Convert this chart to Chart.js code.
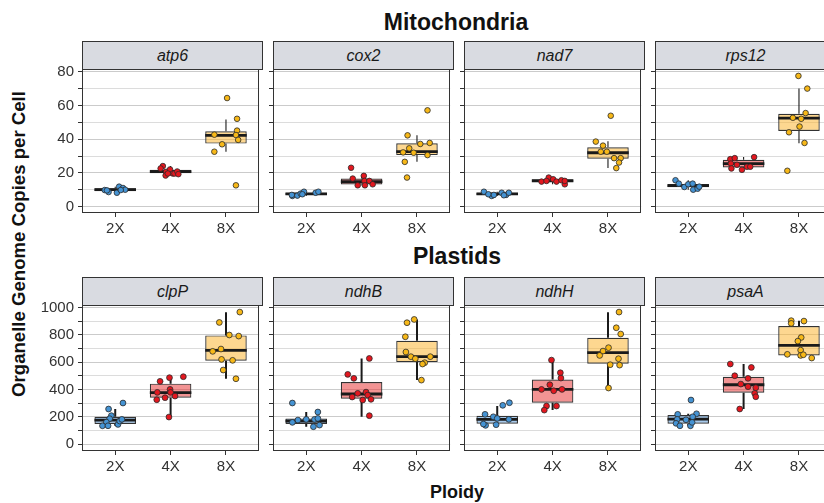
<!DOCTYPE html>
<html><head><meta charset="utf-8">
<script src="https://cdn.jsdelivr.net/npm/chart.js@4.4.0/dist/chart.umd.min.js"></script>
<style>
html,body{margin:0;padding:0;background:#fff;}
body{width:824px;height:503px;overflow:hidden;position:relative;font-family:'Liberation Sans',Arial,Helvetica,sans-serif;}
.title{position:absolute;transform:translate(-50%,-50%);font-weight:bold;color:#111;white-space:nowrap;}
.strip{position:absolute;box-sizing:border-box;border:1px solid #333;background:#d9dbe1;font-style:italic;text-align:center;color:#1a1a1a;font-size:16px;}
canvas{position:absolute;}
</style></head><body>
<div class="title" style="left:456px;top:22px;font-size:23px;">Mitochondria</div>
<div class="title" style="left:457px;top:256px;font-size:23px;">Plastids</div>
<div class="title" style="left:457px;top:492px;font-size:18px;">Ploidy</div>
<div class="title" style="left:19px;top:244px;font-size:18.6px;transform:translate(-50%,-50%) rotate(-90deg);">Organelle Genome Copies per Cell</div>
<script>
// ---------- data ----------
const ploidy = ['2X', '4X', '8X'];
const mitoGenes = ['atp6', 'cox2', 'nad7', 'rps12'];
const plastidGenes = ['clpP', 'ndhB', 'ndhH', 'psaA'];
const mitoTickValues = [0, 10, 20, 30, 40, 50, 60, 70, 80];
const mitoTickLabels = ['0', '', '20', '', '40', '', '60', '', '80'];
const plastidTickValues = [0, 100, 200, 300, 400, 500, 600, 700, 800, 900, 1000];
const plastidTickLabels = ['0', '', '200', '', '400', '', '600', '', '800', '', '1000'];

// box stats per ploidy: [lower whisker, Q1, median, Q3, upper whisker]
const atp6Stats = [[8.3, 9.2, 10.2, 10.9, 11.9], [18.5, 19.8, 20.8, 21.9, 24.1], [32.6, 37.4, 42.3, 44.7, 51.7]];
const cox2Stats = [[6.4, 7.0, 7.6, 8.3, 8.9], [12.7, 13.2, 14.9, 16.7, 18.3], [26.6, 30.6, 32.6, 37.6, 42.3]];
const nad7Stats = [[6.4, 7.0, 7.6, 8.3, 8.9], [13.3, 14.7, 15.4, 16.2, 17.3], [22.9, 28.4, 32.0, 35.2, 38.8]];
const rps12Stats = [[10.1, 11.5, 12.5, 13.5, 15.7], [21.9, 23.3, 25.6, 27.8, 29.4], [37.6, 44.9, 52.5, 55.1, 70.0]];
const clpPStats = [[134, 147, 176, 200, 257], [198, 340, 377, 443, 494], [479, 611, 687, 797, 966]];
const ndhBStats = [[127, 147, 169, 188, 235], [200, 333, 367, 455, 628], [469, 601, 641, 758, 914]];
const ndhHStats = [[137, 149, 181, 208, 279], [249, 303, 401, 474, 621], [408, 589, 670, 780, 966]];
const psaAStats = [[134, 149, 183, 213, 222], [257, 377, 435, 494, 587], [631, 650, 724, 866, 905]];

// individual (jittered) observations: [x position, value], one list per ploidy
const atp6Points = [
  [[0.81, 9.9], [0.88, 8.7], [1.03, 8.3], [1.07, 11.9], [1.14, 11.1], [1.18, 10.1], [1.10, 9.9], [0.85, 9.7]],
  [[1.86, 24.1], [1.82, 22.7], [1.92, 20.7], [1.91, 18.5], [1.99, 22.1], [2.04, 19.7], [2.07, 19.7], [2.12, 20.9], [2.14, 19.3], [1.95, 19.7]],
  [[3.02, 64.4], [3.20, 52.1], [2.79, 42.7], [3.20, 45.1], [3.18, 42.5], [3.22, 39.6], [2.93, 37.0], [2.79, 32.6], [3.18, 12.7]]
];
const cox2Points = [
  [[0.75, 6.4], [0.84, 6.6], [0.90, 7.8], [0.96, 8.9], [1.17, 8.3], [1.22, 8.9], [0.74, 7.0], [0.93, 7.4]],
  [[1.81, 23.1], [1.84, 16.7], [2.04, 18.3], [2.05, 15.3], [1.93, 12.7], [2.06, 12.7], [2.14, 15.3], [2.20, 13.3]],
  [[3.19, 57.1], [2.83, 42.3], [3.06, 37.2], [3.23, 37.8], [2.86, 34.6], [2.75, 32.2], [2.94, 32.0], [3.19, 30.6], [2.78, 26.6], [2.82, 17.3]]
];
const nad7Points = [
  [[0.76, 8.9], [0.90, 6.4], [0.84, 7.4], [1.08, 8.3], [1.16, 7.0], [1.21, 8.3], [0.94, 7.0], [1.12, 6.8]],
  [[1.93, 17.3], [1.80, 14.9], [1.89, 15.3], [2.01, 16.3], [2.07, 14.9], [2.16, 15.7], [2.22, 13.3], [2.22, 15.3]],
  [[3.05, 53.9], [2.78, 38.6], [2.91, 36.2], [2.87, 32.6], [2.98, 32.6], [3.11, 28.8], [3.23, 28.8], [3.20, 26.2], [3.15, 22.9]]
];
const rps12Points = [
  [[0.77, 15.7], [0.83, 13.7], [0.93, 11.7], [1.00, 13.3], [1.08, 13.7], [1.09, 10.1], [1.17, 10.7], [1.20, 11.9]],
  [[1.76, 28.2], [1.84, 28.8], [1.77, 25.6], [1.78, 22.7], [1.88, 24.9], [1.97, 21.9], [2.06, 23.7], [2.12, 23.7], [2.19, 29.4]],
  [[2.99, 77.5], [3.15, 70.0], [3.12, 55.5], [2.89, 52.7], [3.04, 52.1], [3.01, 47.5], [2.82, 44.1], [3.10, 37.8], [2.79, 21.3]]
];
const clpPPoints = [
  [[0.88, 257], [1.14, 301], [0.93, 208], [0.90, 186], [0.84, 161], [0.77, 134], [0.87, 134], [1.05, 144], [1.08, 169], [1.12, 181]],
  [[1.81, 460], [1.98, 487], [2.23, 494], [1.76, 379], [1.99, 401], [2.00, 379], [2.08, 352], [1.90, 340], [1.75, 325], [1.97, 198]],
  [[3.25, 968], [2.88, 892], [3.06, 800], [3.23, 792], [2.76, 680], [2.91, 697], [2.92, 621], [3.12, 614], [2.95, 543], [3.18, 479]]
];
const ndhBPoints = [
  [[0.75, 301], [0.75, 159], [0.85, 176], [1.00, 181], [1.15, 181], [1.21, 235], [1.21, 188], [1.24, 139], [1.13, 127]],
  [[2.14, 628], [1.75, 511], [1.86, 482], [1.93, 372], [2.08, 381], [2.11, 359], [1.83, 345], [2.02, 323], [2.17, 328], [2.14, 208]],
  [[2.95, 914], [2.82, 890], [2.79, 787], [2.80, 675], [2.89, 641], [2.97, 626], [3.24, 641], [3.14, 597], [3.10, 587], [3.08, 469]]
];
const ndhHPoints = [
  [[1.22, 303], [1.10, 284], [0.78, 218], [0.93, 200], [1.00, 188], [1.21, 181], [0.79, 137], [0.98, 142], [0.75, 147]],
  [[1.98, 616], [2.14, 523], [2.15, 484], [1.95, 435], [1.80, 401], [2.02, 391], [2.17, 401], [1.89, 279], [2.07, 279], [1.85, 249]],
  [[3.20, 968], [3.15, 853], [3.23, 807], [3.01, 707], [2.91, 682], [2.85, 650], [3.19, 626], [3.04, 582], [3.21, 579], [3.01, 411]]
];
const psaAPoints = [
  [[1.05, 323], [0.81, 218], [1.15, 222], [1.08, 200], [0.80, 181], [0.78, 152], [0.85, 134], [1.04, 134], [1.07, 159], [0.96, 178]],
  [[1.76, 587], [2.14, 562], [1.84, 501], [2.08, 482], [1.95, 440], [2.08, 421], [2.22, 413], [2.20, 372], [2.22, 347], [1.93, 257]],
  [[2.86, 905], [3.09, 902], [2.86, 885], [3.04, 782], [2.98, 755], [3.03, 689], [2.79, 658], [3.03, 650], [3.08, 655], [3.23, 631]]
];

// ---------- styling / layout ----------
const FONT = "'Liberation Sans', Arial, Helvetica, sans-serif";
const boxFills = ['rgba(92,156,218,0.55)', 'rgba(232,58,58,0.55)', 'rgba(251,182,52,0.55)'];
const pointFills = ['#4593d3', '#e3171f', '#f7b818'];
const PANEL_LEFT = [82, 273, 464, 655];
const PANEL_W = 181;
const rows = [
  { genes: mitoGenes, stats: [atp6Stats, cox2Stats, nad7Stats, rps12Stats], points: [atp6Points, cox2Points, nad7Points, rps12Points],
    stripTop: 41, plotTop: 69, plotBottom: 213, yMin: -3.7, yMax: 81.6, tickValues: mitoTickValues, tickLabels: mitoTickLabels,
    whisker: 1.1, median: 2.8, radius: 2.8 },
  { genes: plastidGenes, stats: [clpPStats, ndhBStats, ndhHStats, psaAStats], points: [clpPPoints, ndhBPoints, ndhHPoints, psaAPoints],
    stripTop: 277, plotTop: 305, plotBottom: 451, yMin: -51, yMax: 1020, tickValues: plastidTickValues, tickLabels: plastidTickLabels,
    whisker: 2, median: 2.8, radius: 2.9 }
];

const boxExtras = {
  id: 'boxExtras',
  afterDatasetDraw(chart, args, opts) {
    const ds = chart.data.datasets[args.index];
    if (!ds.boxStats) return;
    const ys = chart.scales.y, ctx = chart.ctx, a = chart.chartArea;
    ctx.save();
    ctx.beginPath(); ctx.rect(a.left, a.top, a.right - a.left, a.bottom - a.top); ctx.clip();
    ctx.strokeStyle = '#1a1a1a';
    args.meta.data.forEach((el, i) => {
      const [lo, q1, med, q3, hi] = ds.boxStats[i];
      ctx.lineWidth = opts.whisker;
      ctx.lineCap = 'butt';
      ctx.beginPath();
      ctx.moveTo(el.x, ys.getPixelForValue(q3)); ctx.lineTo(el.x, ys.getPixelForValue(hi));
      ctx.moveTo(el.x, ys.getPixelForValue(q1)); ctx.lineTo(el.x, ys.getPixelForValue(lo));
      ctx.stroke();
      ctx.lineWidth = opts.median;
      const py = ys.getPixelForValue(med);
      ctx.beginPath(); ctx.moveTo(el.x - el.width / 2, py); ctx.lineTo(el.x + el.width / 2, py); ctx.stroke();
    });
    ctx.restore();
  },
  afterDraw(chart) {
    const ctx = chart.ctx, a = chart.chartArea;
    ctx.save();
    ctx.strokeStyle = '#333'; ctx.lineWidth = 1;
    ctx.strokeRect(Math.round(a.left) + 0.5, Math.round(a.top) + 0.5, Math.round(a.right - a.left) - 1, Math.round(a.bottom - a.top) - 1);
    ctx.restore();
  }
};

Chart.defaults.font.family = FONT;

rows.forEach((row, r) => {
  row.genes.forEach((gene, col) => {
    const left = PANEL_LEFT[col];
    const strip = document.createElement('div');
    strip.className = 'strip';
    strip.textContent = gene;
    const sh = row.plotTop - row.stripTop + 1;
    Object.assign(strip.style, { left: left + 'px', top: row.stripTop + 'px', width: PANEL_W + 'px', height: sh + 'px', lineHeight: (sh - 2) + 'px' });
    document.body.appendChild(strip);

    const W = col === 0 ? 60 : 10, padTop = 12, H = 32;
    const plotH = row.plotBottom - row.plotTop;
    const cv = document.createElement('canvas');
    cv.width = W + PANEL_W + 1; cv.height = padTop + plotH + H;
    Object.assign(cv.style, { left: (left - W) + 'px', top: (row.plotTop - padTop) + 'px', width: cv.width + 'px', height: cv.height + 'px' });
    document.body.appendChild(cv);

    const stats = row.stats[col], pts = row.points[col];
    const datasets = [{
      type: 'bar',
      data: stats.map((s, i) => ({ x: i + 1, y: [s[1], s[3]] })),
      boxStats: stats,
      backgroundColor: boxFills,
      borderColor: '#333',
      borderWidth: 1.2,
      borderSkipped: false,
      barPercentage: 0.75,
      categoryPercentage: 1,
      order: 10
    }];
    pts.forEach((g, gi) => datasets.push({
      type: 'scatter',
      data: g.map(([x, y]) => ({ x, y })),
      backgroundColor: pointFills[gi],
      borderColor: '#2a2a2a',
      borderWidth: 0.8,
      pointRadius: row.radius,
      order: 1
    }));

    new Chart(cv, {
      type: 'scatter',
      data: { datasets },
      plugins: [boxExtras],
      options: {
        responsive: false, animation: false, devicePixelRatio: 1,
        layout: { padding: { top: padTop, right: 1, left: 0, bottom: 0 } },
        plugins: { legend: { display: false }, tooltip: { enabled: false },
          boxExtras: { whisker: row.whisker, median: row.median } },
        scales: {
          x: {
            type: 'linear', min: 0.4, max: 3.6, offset: false,
            afterBuildTicks: s => { s.ticks = ploidy.map((_, i) => ({ value: i + 1 })); },
            afterFit: s => { s.height = H; s.paddingLeft = 0; s.paddingRight = 0; },
            ticks: { callback: (v, i) => ploidy[i], font: { size: 15 }, color: '#333', padding: 3, maxRotation: 0, autoSkip: false },
            grid: { offset: false, drawOnChartArea: false, drawTicks: true, tickLength: 4, tickColor: '#333', tickWidth: 1 },
            border: { display: false }
          },
          y: {
            type: 'linear', min: row.yMin, max: row.yMax, beginAtZero: false,
            afterBuildTicks: s => { s.ticks = row.tickValues.map(v => ({ value: v })); },
            afterFit: s => { s.width = W; s.paddingTop = 0; s.paddingBottom = 0; },
            ticks: { callback: (v, i) => col === 0 ? row.tickLabels[i] : '', font: { size: 15 }, color: '#333', padding: 4, autoSkip: false },
            grid: { offset: false, color: c => row.tickLabels[c.index] !== '' ? '#cbcbcb' : '#dcdcdc', lineWidth: 1, tickLength: 4, tickColor: '#333', tickWidth: 1 },
            border: { display: false }
          }
        }
      }
    });
  });
});
</script>
</body></html>
